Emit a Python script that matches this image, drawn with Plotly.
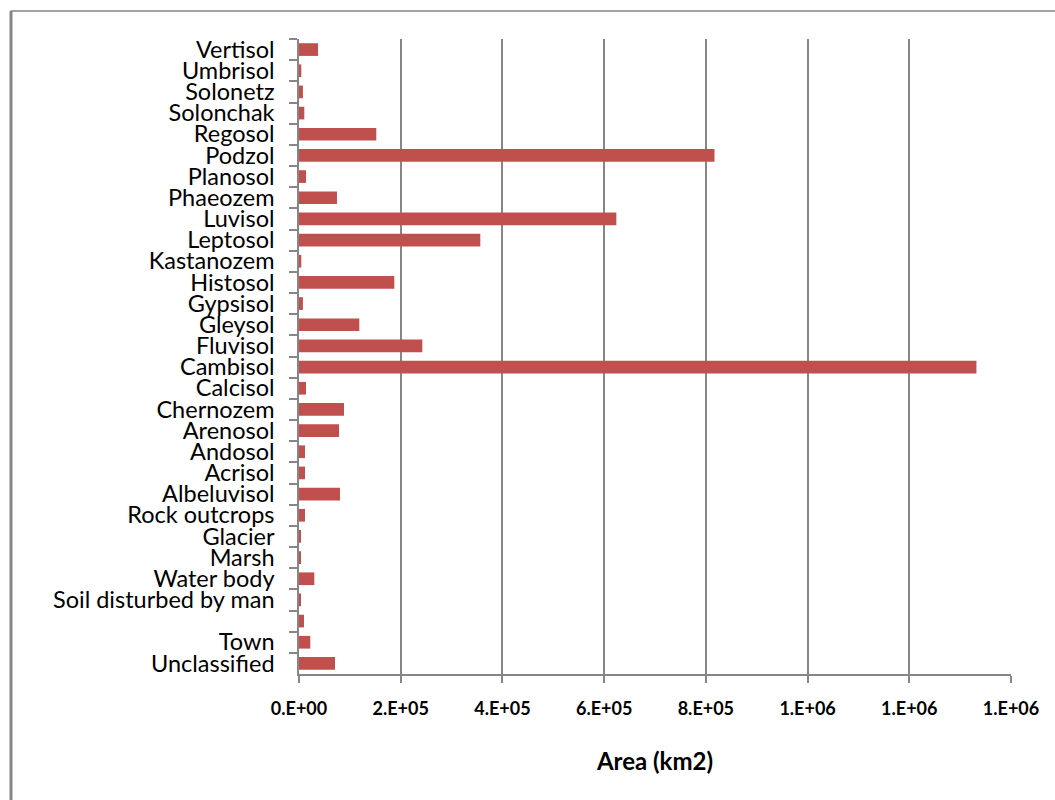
import plotly.graph_objects as go

categories = ["Vertisol", "Umbrisol", "Solonetz", "Solonchak", "Regosol", "Podzol",
              "Planosol", "Phaeozem", "Luvisol", "Leptosol", "Kastanozem", "Histosol",
              "Gypsisol", "Gleysol", "Fluvisol", "Cambisol", "Calcisol", "Chernozem",
              "Arenosol", "Andosol", "Acrisol", "Albeluvisol", "Rock outcrops", "Glacier",
              "Marsh", "Water body", "Soil disturbed by man", " ", "Town", "Unclassified"]
area_km2 = [37400, 4500, 7700, 10400, 152000, 817000,
            13800, 74700, 624000, 356500, 4500, 187400,
            7700, 118600, 242500, 1332000, 13800, 88500,
            78700, 11800, 11800, 80600, 11800, 3900,
            3900, 30100, 3900, 9800, 22200, 70800]
tick_values = [0, 200000, 400000, 600000, 800000, 1000000, 1200000, 1400000]
tick_labels = [f"{v:#.0E}" for v in tick_values]

GRAY = "#868686"

fig = go.Figure(go.Bar(
    x=area_km2, y=categories, orientation="h",
    marker=dict(color="#C0504D", line=dict(width=0)),
))

fig.update_layout(
    width=1055, height=800,
    margin=dict(l=299, r=44, t=39, b=126),
    paper_bgcolor="white", plot_bgcolor="white",
    bargap=0.4,
    showlegend=False,
    font=dict(family="Lato", color="black"),
    xaxis=dict(
        range=[0, 1400000],
        tickvals=tick_values, ticktext=tick_labels,
        showgrid=True, gridcolor=GRAY, gridwidth=1.5,
        showline=True, linecolor=GRAY, linewidth=1.5,
        ticks="outside", ticklen=7, tickcolor=GRAY, tickwidth=1.5,
        tickfont=dict(family="Lato", size=18, weight="bold"),
        ticklabelstandoff=11,
        zeroline=False,
        title=dict(text="Area (km2)", font=dict(family="Lato", size=24, weight="bold"),
                   standoff=35),
    ),
    yaxis=dict(
        type="category",
        autorange="reversed",
        tickmode="linear", dtick=1, tick0=0,
        showline=True, linecolor=GRAY, linewidth=1.5,
        ticks="outside", ticklen=8, tickcolor=GRAY, tickwidth=1.5,
        tickson="boundaries",
        tickfont=dict(family="Lato", size=23.5),
        ticklabelstandoff=18,
        showgrid=False, zeroline=False,
    ),
    shapes=[
        dict(type="line", xref="paper", yref="paper",
             x0=(10.5 - 299) / 712, x1=(1060 - 299) / 712,
             y0=(674 - 11) / 635, y1=(674 - 11) / 635,
             line=dict(color=GRAY, width=1.5)),
        dict(type="line", xref="paper", yref="paper",
             x0=(11 - 299) / 712, x1=(11 - 299) / 712,
             y0=(674 - 11) / 635, y1=(674 - 805) / 635,
             line=dict(color=GRAY, width=3)),
    ],
)

fig.write_html("out.html")
